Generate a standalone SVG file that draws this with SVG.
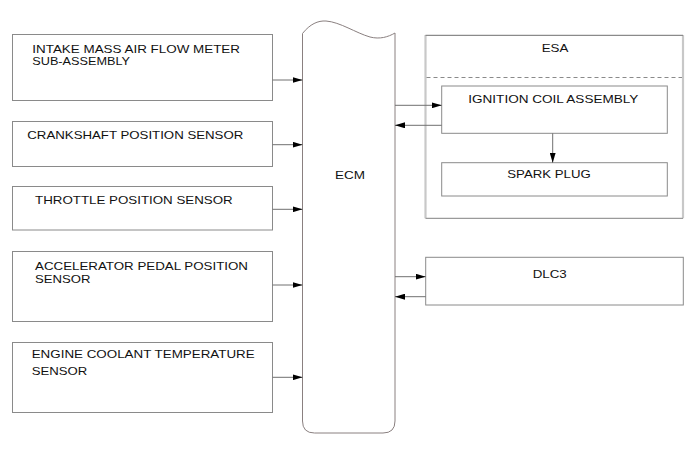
<svg xmlns="http://www.w3.org/2000/svg" width="691" height="465" viewBox="0 0 691 465">
<style>
.box{fill:#fff;stroke:#8a8a8a;stroke-width:1}
.t{font-family:"Liberation Sans",Arial,sans-serif;font-size:11.2px;fill:#111}
.c{fill:none;stroke:#707070;stroke-width:1}
</style>
<defs>
<marker id="ah" markerUnits="userSpaceOnUse" markerWidth="10" markerHeight="6" refX="10" refY="3" orient="auto">
<path d="M0,0 L10,3 L0,6 z" fill="#000"/>
</marker>
</defs>
<rect width="691" height="465" fill="#fff"/>

<g id="maf">
<rect class="box" x="12.5" y="34.5" width="260" height="66"/>
<text class="t" x="32.3" y="52.7" textLength="207.7" lengthAdjust="spacingAndGlyphs">INTAKE MASS AIR FLOW METER</text>
<text class="t" x="32.3" y="65.4" textLength="97.7" lengthAdjust="spacingAndGlyphs">SUB-ASSEMBLY</text>
</g>
<g id="ckp">
<rect class="box" x="12.5" y="121.5" width="260" height="45"/>
<text class="t" x="27.3" y="138.7" textLength="216" lengthAdjust="spacingAndGlyphs">CRANKSHAFT POSITION SENSOR</text>
</g>
<g id="tps">
<rect class="box" x="12.5" y="186.5" width="260" height="43.5"/>
<text class="t" x="35" y="204.1" textLength="197.7" lengthAdjust="spacingAndGlyphs">THROTTLE POSITION SENSOR</text>
</g>
<g id="apps">
<rect class="box" x="12.5" y="251.5" width="260" height="70"/>
<text class="t" x="35" y="270.1" textLength="213" lengthAdjust="spacingAndGlyphs">ACCELERATOR PEDAL POSITION</text>
<text class="t" x="35" y="283.4" textLength="55.5" lengthAdjust="spacingAndGlyphs">SENSOR</text>
</g>
<g id="ect">
<rect class="box" x="12.5" y="342.5" width="260" height="70"/>
<text class="t" x="31.7" y="358.4" textLength="223" lengthAdjust="spacingAndGlyphs">ENGINE COOLANT TEMPERATURE</text>
<text class="t" x="31.7" y="375.1" textLength="55.6" lengthAdjust="spacingAndGlyphs">SENSOR</text>
</g>

<g id="ecm">
<path d="M302.5,33.5 C310,24 318,20.5 326,21 C340,22 356,33 370,37 C380,39.5 388,37 395,33 L395,421 Q395,433 383,433 L314.5,433 Q302.5,433 302.5,421 Z" fill="#fff" stroke="#8a8080" stroke-width="1"/>
<text class="t" x="335" y="179.1" textLength="30" lengthAdjust="spacingAndGlyphs">ECM</text>
</g>

<g id="esa">
<rect x="425.5" y="35" width="257.5" height="183.3" fill="#fff" stroke="none"/>
<line x1="425.5" y1="35" x2="425.5" y2="218.3" stroke="#c8c8c8" stroke-width="2.2"/>
<line x1="683" y1="35" x2="683" y2="218.3" stroke="#c8c8c8" stroke-width="2.2"/>
<line x1="425.5" y1="35.3" x2="683" y2="35.3" stroke="#8a8a8a" stroke-width="1.2"/>
<line x1="425.5" y1="218.3" x2="683" y2="218.3" stroke="#9a9a9a" stroke-width="1.2"/>
<line x1="426.5" y1="77.5" x2="682" y2="77.5" stroke="#8a8a8a" stroke-width="1" stroke-dasharray="4,3"/>
<text class="t" x="541.7" y="51.8" textLength="26.7" lengthAdjust="spacingAndGlyphs">ESA</text>
</g>
<g id="coil">
<rect class="box" x="441.7" y="86" width="225.6" height="47.3"/>
<text class="t" x="468.3" y="103.4" textLength="170" lengthAdjust="spacingAndGlyphs">IGNITION COIL ASSEMBLY</text>
</g>
<g id="plug">
<rect class="box" x="441.7" y="162.7" width="225.6" height="33.3"/>
<text class="t" x="507.3" y="178.4" textLength="83.4" lengthAdjust="spacingAndGlyphs">SPARK PLUG</text>
</g>
<g id="dlc3">
<rect class="box" x="425.7" y="257.3" width="257.6" height="47.7"/>
<text class="t" x="532.7" y="278.4" textLength="34" lengthAdjust="spacingAndGlyphs">DLC3</text>
</g>

<g id="connectors">
<line class="c" x1="272.5" y1="80" x2="302.5" y2="80" marker-end="url(#ah)"/>
<line class="c" x1="272.5" y1="144.7" x2="302.5" y2="144.7" marker-end="url(#ah)"/>
<line class="c" x1="272.5" y1="209.3" x2="302.5" y2="209.3" marker-end="url(#ah)"/>
<line class="c" x1="272.5" y1="285" x2="302.5" y2="285" marker-end="url(#ah)"/>
<line class="c" x1="272.5" y1="377.3" x2="302.5" y2="377.3" marker-end="url(#ah)"/>
<line class="c" x1="395" y1="105.3" x2="441.7" y2="105.3" marker-end="url(#ah)"/>
<line class="c" x1="441.7" y1="125.3" x2="395" y2="125.3" marker-end="url(#ah)"/>
<line class="c" x1="552.7" y1="133.3" x2="552.7" y2="162.7" marker-end="url(#ah)"/>
<line class="c" x1="395" y1="276.7" x2="425.7" y2="276.7" marker-end="url(#ah)"/>
<line class="c" x1="425.7" y1="296.7" x2="395" y2="296.7" marker-end="url(#ah)"/>
</g>
</svg>
